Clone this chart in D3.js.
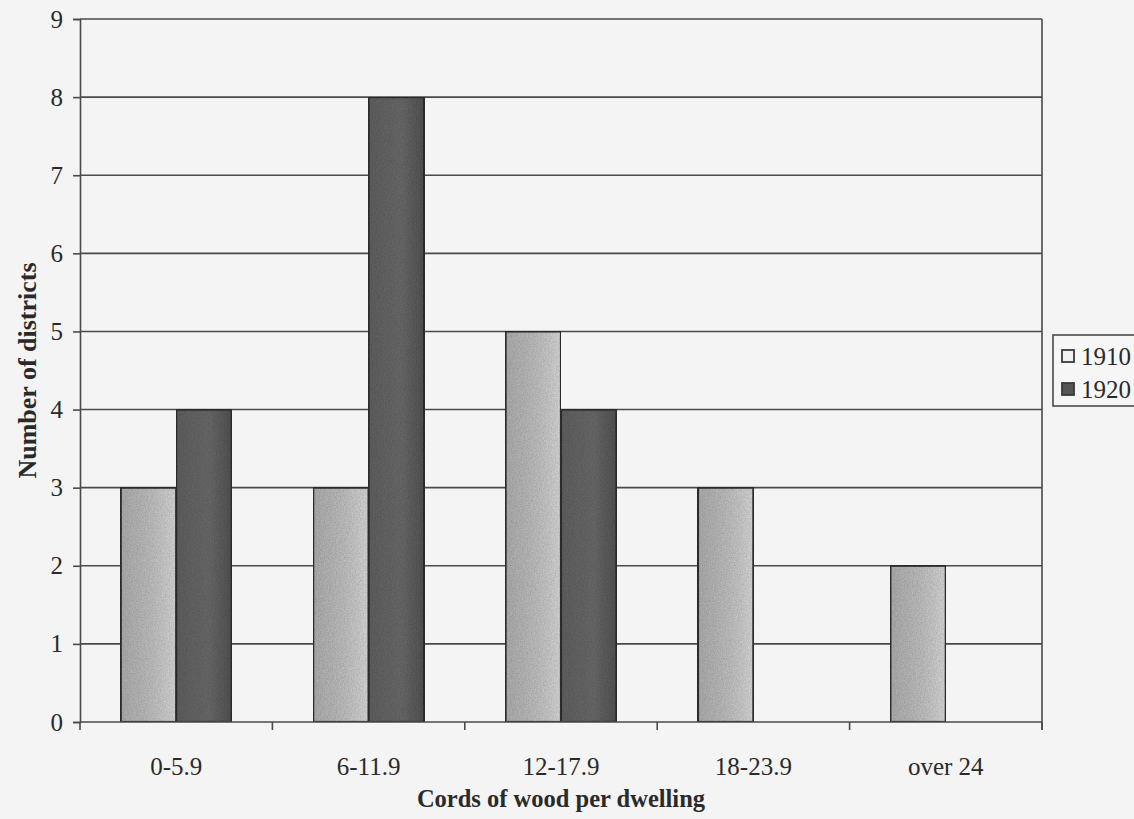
<!DOCTYPE html>
<html>
<head>
<meta charset="utf-8">
<script src="https://cdn.jsdelivr.net/npm/d3@7"></script>
<style>
  html, body { margin: 0; padding: 0; background: #f4f4f4; }
  svg { display: block; }
  text { font-family: "Liberation Serif", "Times New Roman", serif; fill: #2a2a2a; }
</style>
</head>
<body>
<svg id="chart" width="1134" height="819"></svg>
<script>
// Wood consumption per dwelling, district counts by census year
const categories = ["0-5.9", "6-11.9", "12-17.9", "18-23.9", "over 24"];
const seriesNames = ["1910", "1920"];
const values1910 = [3, 3, 5, 3, 2];
const values1920 = [4, 8, 4, 0, 0];
const yTicks = [0, 1, 2, 3, 4, 5, 6, 7, 8, 9];

const svg = d3.select("#chart");
const W = 1134, H = 819;
const m = { left: 80, right: 92, top: 19, bottom: 97 };
const plotW = W - m.left - m.right;   // 962
const plotH = H - m.top - m.bottom;   // 703

svg.append("rect").attr("width", W).attr("height", H).attr("fill", "#f4f4f4");

// grain used on the bar fills
const defs = svg.append("defs");
const grain = defs.append("filter").attr("id", "grain")
  .attr("x", 0).attr("y", 0).attr("width", 1).attr("height", 1);
grain.append("feTurbulence").attr("type", "fractalNoise")
  .attr("baseFrequency", 0.75).attr("numOctaves", 2).attr("seed", 4).attr("result", "noise");
grain.append("feColorMatrix").attr("in", "noise").attr("type", "matrix")
  .attr("values", "0 0 0 0 0  0 0 0 0 0  0 0 0 0 0  0 0 0 0.45 -0.05").attr("result", "dots");
grain.append("feComposite").attr("in", "dots").attr("in2", "SourceGraphic").attr("operator", "in").attr("result", "grained");
grain.append("feMerge").call(mm => {
  mm.append("feMergeNode").attr("in", "SourceGraphic");
  mm.append("feMergeNode").attr("in", "grained");
});

const g1910 = defs.append("linearGradient").attr("id", "fill1910").attr("x1", 0).attr("x2", 1);
g1910.append("stop").attr("offset", "0%").attr("stop-color", "#b0b0b0");
g1910.append("stop").attr("offset", "55%").attr("stop-color", "#c2c2c2");
g1910.append("stop").attr("offset", "100%").attr("stop-color", "#dadada");
const g1920 = defs.append("linearGradient").attr("id", "fill1920").attr("x1", 0).attr("x2", 1);
g1920.append("stop").attr("offset", "0%").attr("stop-color", "#636363");
g1920.append("stop").attr("offset", "60%").attr("stop-color", "#6b6b6b");
g1920.append("stop").attr("offset", "100%").attr("stop-color", "#555555");

const x0 = d3.scaleBand().domain(categories).range([m.left, m.left + plotW]).padding(0);
const x1 = d3.scaleBand().domain(seriesNames).range([0, x0.bandwidth()])
  .paddingInner(0).paddingOuter(0.735);
const y = d3.scaleLinear().domain([0, 9]).range([m.top + plotH, m.top]);

const lineColor = "#4a4a4a";

// horizontal gridlines (including the top frame line)
svg.append("g").selectAll("line").data(yTicks.filter(d => d > 0)).join("line")
  .attr("x1", m.left).attr("x2", m.left + plotW)
  .attr("y1", d => y(d)).attr("y2", d => y(d))
  .attr("stroke", lineColor).attr("stroke-width", 1.6);

// right frame line
svg.append("line")
  .attr("x1", m.left + plotW).attr("x2", m.left + plotW)
  .attr("y1", m.top).attr("y2", m.top + plotH + 8)
  .attr("stroke", lineColor).attr("stroke-width", 1.6);

// bars
const rows = categories.map((c, i) => ({ cat: c, vals: [
  { s: "1910", v: values1910[i] }, { s: "1920", v: values1920[i] } ] }));

const groups = svg.append("g").selectAll("g").data(rows).join("g")
  .attr("transform", d => `translate(${x0(d.cat)},0)`);
groups.selectAll("rect").data(d => d.vals.filter(e => e.v > 0)).join("rect")
  .attr("x", d => x1(d.s))
  .attr("y", d => y(d.v))
  .attr("width", x1.bandwidth())
  .attr("height", d => y(0) - y(d.v))
  .attr("fill", d => d.s === "1910" ? "url(#fill1910)" : "url(#fill1920)")
  .attr("filter", "url(#grain)")
  .attr("stroke", "#333333").attr("stroke-width", 2.2);

// y axis
const yAxis = d3.axisLeft(y).tickValues(yTicks).tickSize(7).tickPadding(10).tickFormat(d3.format("d"));
const ya = svg.append("g").attr("transform", `translate(${m.left},0)`).call(yAxis);
ya.select(".domain").attr("stroke", lineColor).attr("stroke-width", 1.6);
ya.selectAll(".tick line").attr("stroke", lineColor).attr("stroke-width", 1.6);
ya.selectAll(".tick text").attr("font-size", 25).attr("fill", "#2a2a2a")
  .attr("font-family", "Liberation Serif, serif");

// x axis: ticks sit on the category boundaries, labels centred in each band
const xa = svg.append("g").attr("transform", `translate(0,${y(0)})`);
xa.append("line").attr("x1", m.left).attr("x2", m.left + plotW)
  .attr("stroke", lineColor).attr("stroke-width", 1.6);
const bounds = categories.map(c => x0(c)).concat([m.left + plotW]);
xa.selectAll("line.tk").data(bounds).join("line").attr("class", "tk")
  .attr("x1", d => d).attr("x2", d => d).attr("y1", 0).attr("y2", 8)
  .attr("stroke", lineColor).attr("stroke-width", 1.6);
xa.selectAll("text").data(categories).join("text")
  .attr("x", d => x0(d) + x0.bandwidth() / 2)
  .attr("y", 53)
  .attr("text-anchor", "middle")
  .attr("font-size", 25)
  .text(d => d);

// axis titles
svg.append("text")
  .attr("x", m.left + plotW / 2).attr("y", 807)
  .attr("text-anchor", "middle").attr("font-size", 24.5).attr("font-weight", "bold")
  .text("Cords of wood per dwelling");
svg.append("text")
  .attr("transform", `translate(36,${m.top + plotH / 2}) rotate(-90)`)
  .attr("text-anchor", "middle").attr("font-size", 26).attr("font-weight", "bold")
  .text("Number of districts");

// legend
const legend = svg.append("g").attr("transform", "translate(1053,335)");
legend.append("rect").attr("x", 0).attr("y", 0).attr("width", 100).attr("height", 71)
  .attr("fill", "#f6f6f6").attr("stroke", "#4a4a4a").attr("stroke-width", 1.6);
const legendItems = legend.selectAll("g").data(seriesNames).join("g")
  .attr("transform", (d, i) => `translate(9,${21 + i * 33})`);
legendItems.append("rect").attr("x", 0).attr("y", -6).attr("width", 12).attr("height", 12)
  .attr("fill", d => d === "1910" ? "#f2f2f2" : "#555555")
  .attr("stroke", "#3a3a3a").attr("stroke-width", 1.8);
legendItems.append("text").attr("x", 19).attr("y", 9).attr("font-size", 25).text(d => d);
</script>
</body>
</html>
